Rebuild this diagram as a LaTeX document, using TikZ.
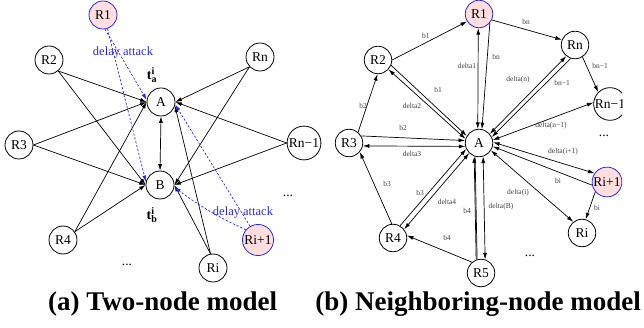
\documentclass[tikz,border=0pt]{standalone}
\usepackage{fontspec}
\setmainfont{Liberation Serif}
\usetikzlibrary{arrows.meta}
\definecolor{attackblue}{RGB}{40,40,245}
\definecolor{attackfill}{RGB}{255,222,222}
\begin{document}
\begin{tikzpicture}[x=1pt,y=-1pt,
  peer/.style={circle,draw,line width=0.8pt,minimum size=28pt,inner sep=1pt,
    font=\fontsize{13.5}{14}\selectfont},
  attacker/.style={peer,draw=attackblue,fill=attackfill},
  tip/.tip={Latex[length=6.5pt,width=4pt]},
  link/.style={line width=0.7pt,-tip},
  both/.style={line width=0.7pt,tip-tip},
  plain/.style={line width=0.7pt},
  attack/.style={attackblue,line width=0.7pt,dash pattern=on 2.2pt off 1.8pt,-tip},
  lbl/.style={font=\fontsize{7.5}{8}\selectfont,text=black!75,inner sep=0pt},
  dots/.style={font=\fontsize{13.5}{14}\selectfont,inner sep=0pt},
  caption/.style={font=\fontsize{27}{28}\bfseries,inner sep=0pt},
]
\useasboundingbox (0,0) rectangle (644,328);

% ---------------- (a) two-node model ----------------
\node[attacker] (aR1) at (103,15) {R1};
\node[peer] (aR2) at (49,60) {R2};
\node[peer] (aRn) at (260,57) {Rn};
\node[peer] (aR3) at (19,145) {R3};
\node[peer] (aA) at (161,102) {A};
\node[peer] (aB) at (160,185) {B};
\node[peer] (aRn1) at (304,143) {Rn−1};
\node[peer] (aR4) at (63,240) {R4};
\node[peer] (aRi) at (213,268) {Ri};
\node[attacker] (aRi1) at (258,240) {Ri+1};
\node[dots] (adots1) at (127,265) {...};
\node[dots] (adots2) at (288,196) {...};

\draw[link] (aR2.-50) -- (aA.west);
\draw[link] (aR2.-50) -- (aB.west);
\draw[link] (aR3.east) -- (aA.west);
\draw[link] (aR3.east) -- (aB.west);
\draw[link] (aR4.35) -- (aA.west);
\draw[link] (aR4.35) -- (aB.west);
\draw[link] (aRn.-137) -- (aA.east);
\draw[link] (aRn.-137) -- (aB.east);
\draw[link] (aRn1.west) -- (aA.east);
\draw[link] (aRn1.west) -- (aB.east);
\draw[link] (aRi.100) -- (aA.-15);
\draw[link] (aRi.100) -- (aB.east);
\draw[both] (aA.south) -- (aB.north);

\draw[attack] (aR1.-82) -- (aA.172);
\draw[attack] (aR1.-72) -- (aB.168);
\draw[attack] (aRi1.120) -- (aA.-10);
\draw[attack] (aRi1.140) to[bend left=6] (aB.-8);

\node[font=\fontsize{14}{15}\selectfont] (ta) at (152,75)
  {\textbf{t}$^{\textbf{\fontsize{10}{10}\selectfont i}}_{\textbf{\fontsize{10}{10}\selectfont a}}$};
\node[font=\fontsize{14}{15}\selectfont] (tb) at (152,215)
  {\textbf{t}$^{\textbf{\fontsize{10}{10}\selectfont i}}_{\textbf{\fontsize{10}{10}\selectfont b}}$};
\node[text=attackblue,font=\fontsize{12.5}{13}\selectfont,inner sep=0pt] (atk1) at (123,53) {delay attack};
\node[text=attackblue,font=\fontsize{12.5}{13}\selectfont,inner sep=0pt] (atk2) at (243,213) {delay attack};

% ---------------- (b) neighboring-node model ----------------
\begin{scope}
\clip (330,-1) rectangle (622,290);
\begin{scope}[peer/.append style={minimum size=27.5pt,inner sep=0.5pt}]
\node[attacker] (bR1) at (479,14) {R1};
\node[peer] (bRn) at (575,45) {Rn};
\node[peer] (bRn1) at (610,104) {Rn−1};
\node[attacker] (bRi1) at (607,182) {Ri+1};
\node[peer] (bRi) at (582,233) {Ri};
\node[peer] (bR5) at (481,273) {R5};
\node[peer] (bR4) at (393,238) {R4};
\node[peer] (bR3) at (349,143) {R3};
\node[peer] (bR2) at (378,60) {R2};
\node[peer] (bA) at (479,143) {A};
\end{scope}
\node[dots] (bdots1) at (604,136) {...};
\node[dots] (bdots2) at (530,256) {...};

% ring of neighbours
\draw[link] (bR2.east) -- node[lbl,pos=0.45,above=4pt] {b1} (bR1.-148);
\draw[link] (bR1.-25) -- (bRn.158);
\draw[link] (bRn.-58) -- (bRn1.135);
\draw[link] (bR3.50) -- (bR2.-92);
\draw[link] (bR4.95) -- (bR3.-40);
\draw[link] (bR5.130) -- (bR4.10);
\draw[link] (bRi1.-140) -- (bRi.75);

% spokes to A
\draw[both] (bR1.-93) -- (bA.95);
\draw[link] (bR1.-40) -- (bA.78);
\draw[link] (bR2.-22) -- (bA.150);
\draw[both] (bR2.-42) -- (bA.163);
\draw[link] (bR3.30) -- (bA.170);
\draw[both] (bR3.-12) -- (bA.-166);
\draw[link] (bR4.60) -- (bA.-155);
\draw[both] (bR4.38) -- (bA.-134);
\draw[link] (bR5.110) -- (bA.-110);
\draw[plain] (bR5.106) -- (bA.-106);
\draw[both] (bR5.73) -- (bA.-73);
\draw[both] (bRn.-128) -- (bA.40);
\draw[link] (bRn.-108) -- (bA.25);
\draw[both] (bRn1.175) -- (bA.12);
\draw[both] (bRi1.145) -- (bA.3);
\draw[link] (bRi1.-168) -- (bA.-14);
\draw[both] (bA.-32) -- (bRi.128);

% edge labels
\node[lbl] (lbn) at (526,22) {bn};
\node[lbl] (lbn1) at (600,66) {bn−1};
\node[lbl] (lb2) at (363,106) {b2};
\node[lbl] (lb3) at (387,184) {b3};
\node[lbl] (lb4) at (447,238) {b4};
\node[lbl] (lbi) at (597,208) {bi};
\node[lbl] (ld1) at (467,66) {delta1};
\node[lbl] (lbnA) at (496,57) {bn};
\node[lbl] (lb1A) at (438,90) {b1};
\node[lbl] (ld2) at (412,106) {delta2};
\node[lbl] (lb2A) at (403,128) {b2};
\node[lbl] (ld3) at (412,154) {delta3};
\node[lbl] (lb3A) at (420,193) {b3};
\node[lbl] (ld4) at (447,202) {delta4};
\node[lbl] (lb4A) at (467,211) {b4};
\node[lbl] (ldB) at (501,207) {delta(B)};
\node[lbl] (ldn) at (518,80) {delta(n)};
\node[lbl] (lbn1A) at (562,83) {bn−1};
\node[lbl] (ldn1) at (551,126) {delta(n−1)};
\node[lbl] (ldi1) at (563,152) {delta(i+1)};
\node[lbl] (lbiA) at (558,181) {bi};
\node[lbl] (ldi) at (518,193) {delta(i)};
\end{scope}

% ---------------- captions ----------------
\node[caption,anchor=base west] (capa) at (48,310) {(a) Two-node model};
\node[caption,anchor=base east] (capb) at (641,310) {(b) Neighboring-node model};
\end{tikzpicture}
\end{document}
